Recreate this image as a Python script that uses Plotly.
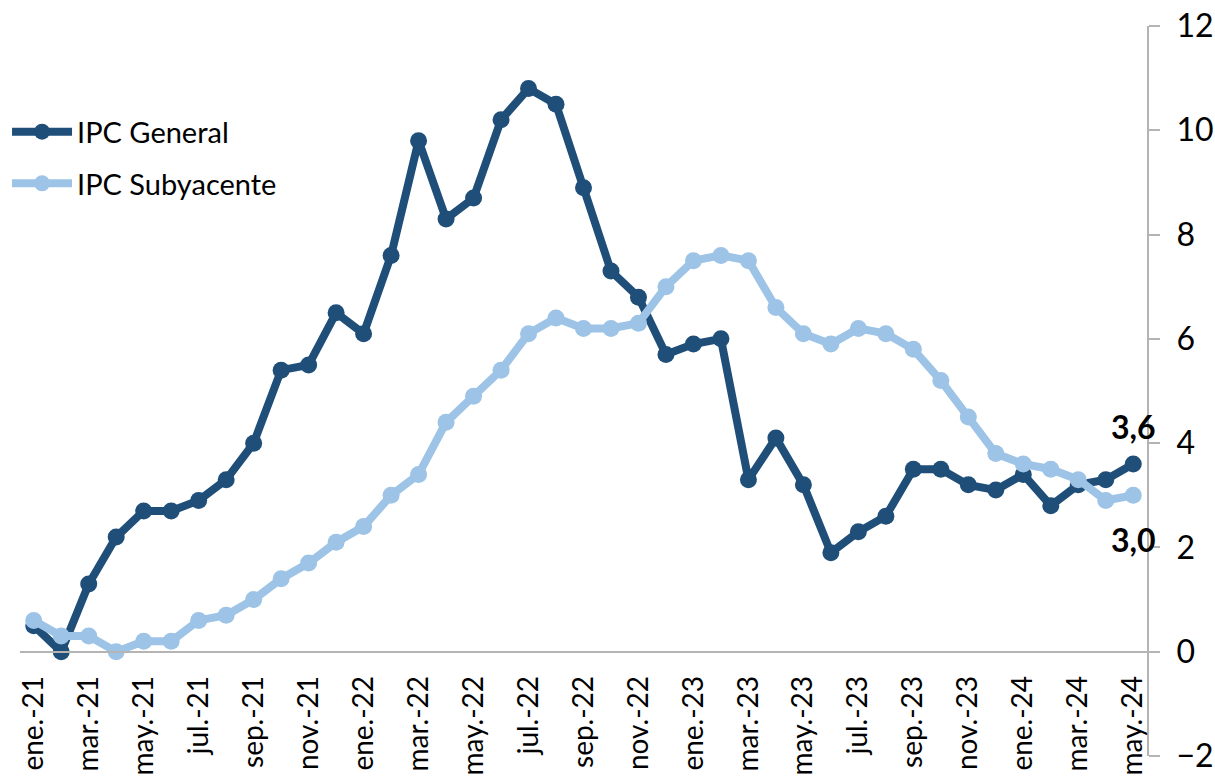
import plotly.graph_objects as go

# meses ene-21 .. may-24
ABREV = ["ene", "feb", "mar", "abr", "may", "jun", "jul", "ago", "sep", "oct", "nov", "dic"]
MESES = [f"{ABREV[m]}.-{a}" for a in (21, 22, 23, 24) for m in range(12)][:41]

IPC_GENERAL = [
    0.5, 0.0, 1.3, 2.2, 2.7, 2.7, 2.9, 3.3, 4.0, 5.4, 5.5, 6.5,
    6.1, 7.6, 9.8, 8.3, 8.7, 10.2, 10.8, 10.5, 8.9, 7.3, 6.8, 5.7,
    5.9, 6.0, 3.3, 4.1, 3.2, 1.9, 2.3, 2.6, 3.5, 3.5, 3.2, 3.1,
    3.4, 2.8, 3.2, 3.3, 3.6,
]
IPC_SUBYACENTE = [
    0.6, 0.3, 0.3, 0.0, 0.2, 0.2, 0.6, 0.7, 1.0, 1.4, 1.7, 2.1,
    2.4, 3.0, 3.4, 4.4, 4.9, 5.4, 6.1, 6.4, 6.2, 6.2, 6.3, 7.0,
    7.5, 7.6, 7.5, 6.6, 6.1, 5.9, 6.2, 6.1, 5.8, 5.2, 4.5, 3.8,
    3.6, 3.5, 3.3, 2.9, 3.0,
]
Y_TICKS = [-2, 0, 2, 4, 6, 8, 10, 12]

COLORS = {
    "general":    "#1F4E79",
    "subyacente": "#9DC3E6",
    "axis":       "#B4B4B4",
    "text":       "#000000",
}
FONT = "Lato, Open Sans, sans-serif"

fig = go.Figure()

fig.add_trace(go.Scatter(
    x=MESES, y=IPC_GENERAL, mode="lines+markers", name="IPC General",
    legendgroup="g1",
    line=dict(color=COLORS["general"], width=8),
    marker=dict(color=COLORS["general"], size=17),
))
fig.add_trace(go.Scatter(
    x=MESES, y=IPC_SUBYACENTE, mode="lines+markers", name="IPC Subyacente",
    legendgroup="g2",
    line=dict(color=COLORS["subyacente"], width=8),
    marker=dict(color=COLORS["subyacente"], size=17),
))

def fmt(v):
    return f"{v:.1f}".replace(".", ",")

# etiquetas del último dato
fig.add_annotation(x=MESES[-1], y=IPC_GENERAL[-1], text=f"<b>{fmt(IPC_GENERAL[-1])}</b>",
                   showarrow=False, yshift=38, font=dict(size=32, color=COLORS["text"]))
fig.add_annotation(x=MESES[-1], y=IPC_SUBYACENTE[-1], text=f"<b>{fmt(IPC_SUBYACENTE[-1])}</b>",
                   showarrow=False, yshift=-44, font=dict(size=32, color=COLORS["text"]))

fig.update_layout(
    width=1215, height=776,
    paper_bgcolor="white", plot_bgcolor="white",
    font=dict(family=FONT, size=29, color=COLORS["text"]),
    margin=dict(l=20, r=68, t=26, b=20, autoexpand=False),
    showlegend=True,
    legend=dict(
        x=-0.0115, y=0.89, xanchor="left", yanchor="top",
        bgcolor="rgba(0,0,0,0)", font=dict(size=29),
        itemwidth=60, tracegroupgap=11,
    ),
    xaxis=dict(
        type="category", range=[-0.5, 40.5],
        anchor="free", position=2 / 14, automargin=False,
        showline=True, linecolor=COLORS["axis"], linewidth=2,
        showgrid=False, zeroline=False, ticks="",
        tickmode="array", tickvals=MESES[::2], ticktext=MESES[::2],
        tickangle=-90, ticklabelstandoff=12,
        tickfont=dict(size=28),
    ),
    yaxis=dict(
        range=[-2, 12], side="right", automargin=False,
        showline=True, linecolor=COLORS["axis"], linewidth=2,
        showgrid=False, zeroline=False,
        ticks="outside", ticklen=11, tickcolor=COLORS["axis"], tickwidth=2,
        tickvals=Y_TICKS, ticklabelstandoff=10,
        tickfont=dict(size=32),
    ),
)

# sin márgenes del body para que la figura ocupe la ventana exacta
fig.write_html(
    "out.html",
    config={"displayModeBar": False},
    post_script="document.body.style.margin='0';document.body.style.overflow='hidden';",
)
